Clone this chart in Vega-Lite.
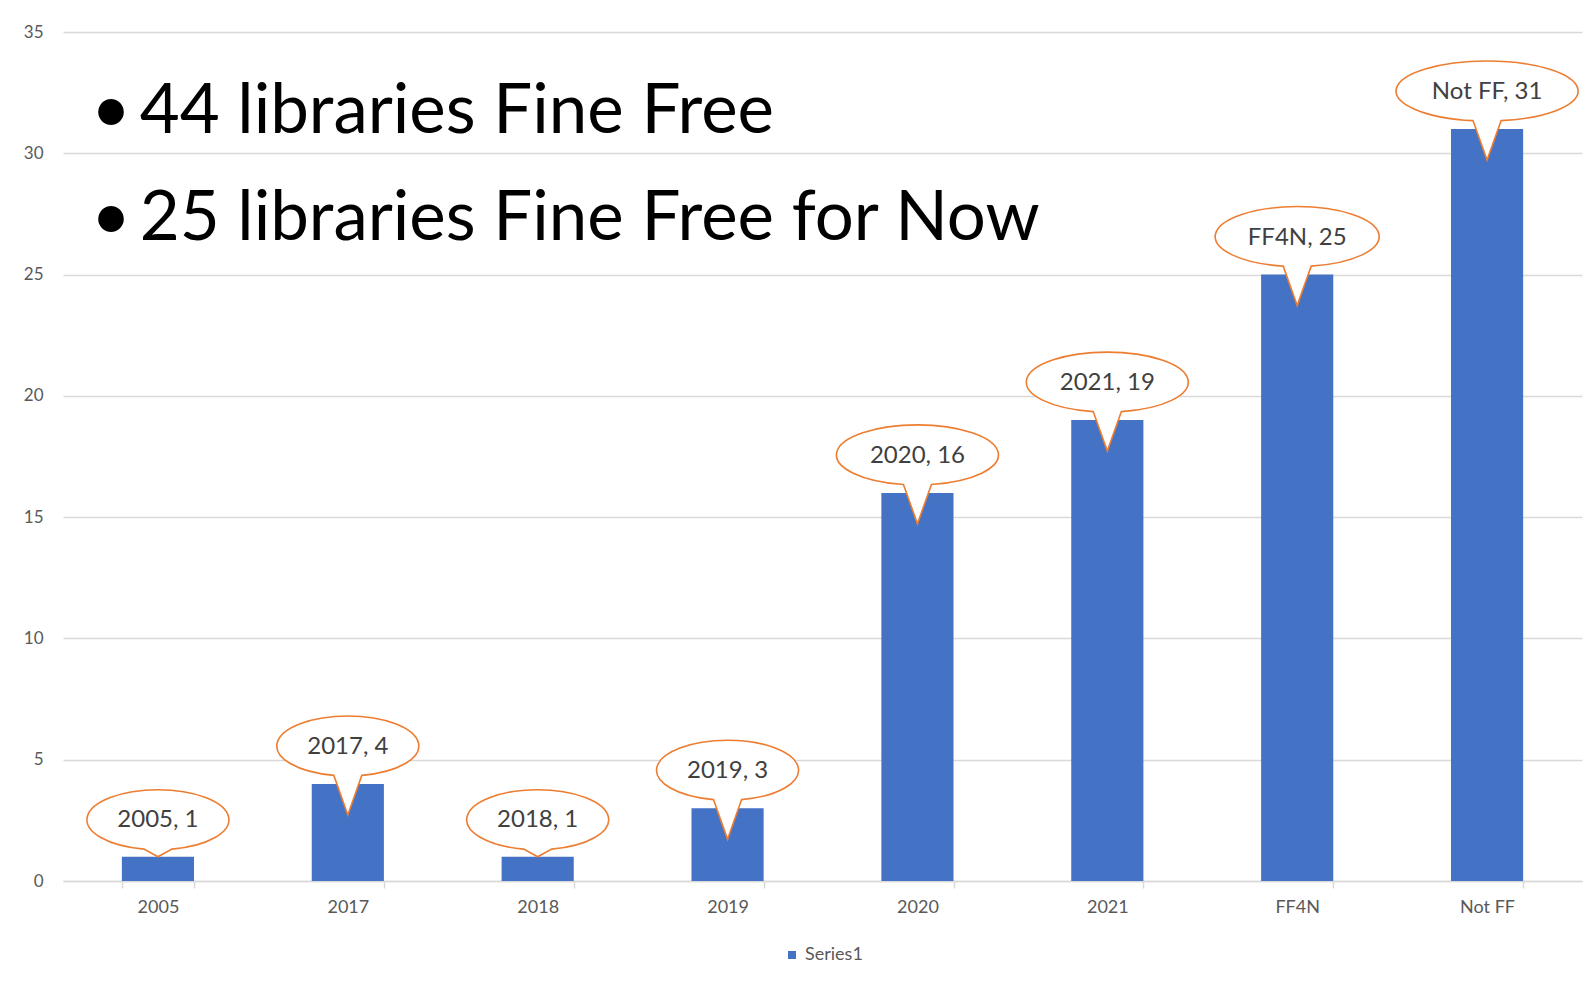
{
  "$schema": "https://vega.github.io/schema/vega-lite/v6.json",
  "width": 1519,
  "height": 849,
  "autosize": "none",
  "padding": {"left": 63, "top": 32, "right": 6, "bottom": 105},
  "background": "white",
  "config": {
    "view": {"stroke": null},
    "font": "Lato",
    "legend": {"layout": {"bottom": {"anchor": "middle"}}}
  },
  "title": {
    "text": ["•\u200944 libraries Fine Free", "•\u200925 libraries Fine Free for Now"],
    "anchor": "start",
    "frame": "group",
    "orient": "top",
    "font": "Lato",
    "fontSize": 69,
    "fontWeight": "normal",
    "color": "#000000",
    "lineHeight": 107,
    "baseline": "top",
    "offset": -231,
    "dx": 28
  },
  "data": {
    "values": [
      {"category": "2005", "value": 1},
      {"category": "2017", "value": 4},
      {"category": "2018", "value": 1},
      {"category": "2019", "value": 3},
      {"category": "2020", "value": 16},
      {"category": "2021", "value": 19},
      {"category": "FF4N", "value": 25},
      {"category": "Not FF", "value": 31}
    ]
  },
  "encoding": {
    "x": {
      "field": "category",
      "type": "nominal",
      "sort": null,
      "scale": {"paddingInner": 0.62, "paddingOuter": 0.31},
      "axis": {
        "title": null,
        "labelAngle": 0,
        "labelFont": "Lato",
        "labelFontSize": 18,
        "labelColor": "#595959",
        "labelPadding": 10,
        "domainColor": "#d9d9d9",
        "domainWidth": 1.5,
        "tickColor": "#d9d9d9",
        "tickWidth": 1.5,
        "tickSize": 7,
        "tickBand": "extent",
        "grid": false
      }
    },
    "y": {
      "field": "value",
      "type": "quantitative",
      "scale": {"domain": [0, 35], "nice": false},
      "axis": {
        "title": null,
        "values": [0, 5, 10, 15, 20, 25, 30, 35],
        "labelFont": "Lato",
        "labelFontSize": 17,
        "labelColor": "#595959",
        "labelPadding": 20,
        "domain": false,
        "ticks": false,
        "grid": true,
        "gridColor": "#d9d9d9",
        "gridWidth": 1.5
      }
    }
  },
  "layer": [
    {
      "mark": {"type": "bar"},
      "encoding": {
        "color": {
          "datum": "Series1",
          "scale": {"range": ["#4472C4"]},
          "legend": {
            "title": null,
            "orient": "bottom",
            "direction": "horizontal",
            "symbolType": "square",
            "symbolSize": 64,
            "labelFont": "Lato",
            "labelFontSize": 18,
            "labelColor": "#595959",
            "offset": 30
          }
        }
      }
    },
    {
      "mark": {"type": "point", "filled": true, "fill": "white", "stroke": "#ED7D31", "strokeWidth": 1.6, "opacity": 1, "size": 4},
      "encoding": {
        "shape": {
          "field": "category",
          "type": "nominal",
          "legend": null,
          "scale": {
            "domain": ["2005", "2017", "2018", "2019", "2020", "2021", "FF4N", "Not FF"],
            "range": [
              "M -14 -7.6 A 71 30 0 1 1 14 -7.6 L 0 0 Z",
              "M -14 -8.6 A 71 30 0 1 1 14 -8.6 L 0 31 Z",
              "M -14 -7.6 A 71 30 0 1 1 14 -7.6 L 0 0 Z",
              "M -14 -8.6 A 71 30 0 1 1 14 -8.6 L 0 31 Z",
              "M -14 -8.45 A 81 30 0 1 1 14 -8.45 L 0 31 Z",
              "M -14 -8.45 A 81 30 0 1 1 14 -8.45 L 0 31 Z",
              "M -14 -8.44 A 82 30 0 1 1 14 -8.44 L 0 31 Z",
              "M -14 -8.36 A 91 30 0 1 1 14 -8.36 L 0 31 Z"
            ]
          }
        }
      }
    },
    {
      "mark": {
        "type": "text",
        "font": "Lato",
        "fontSize": 24,
        "color": "#404040",
        "baseline": "middle",
        "dy": -37,
        "text": {"expr": "datum.category + ', ' + datum.value"}
      }
    }
  ]
}
